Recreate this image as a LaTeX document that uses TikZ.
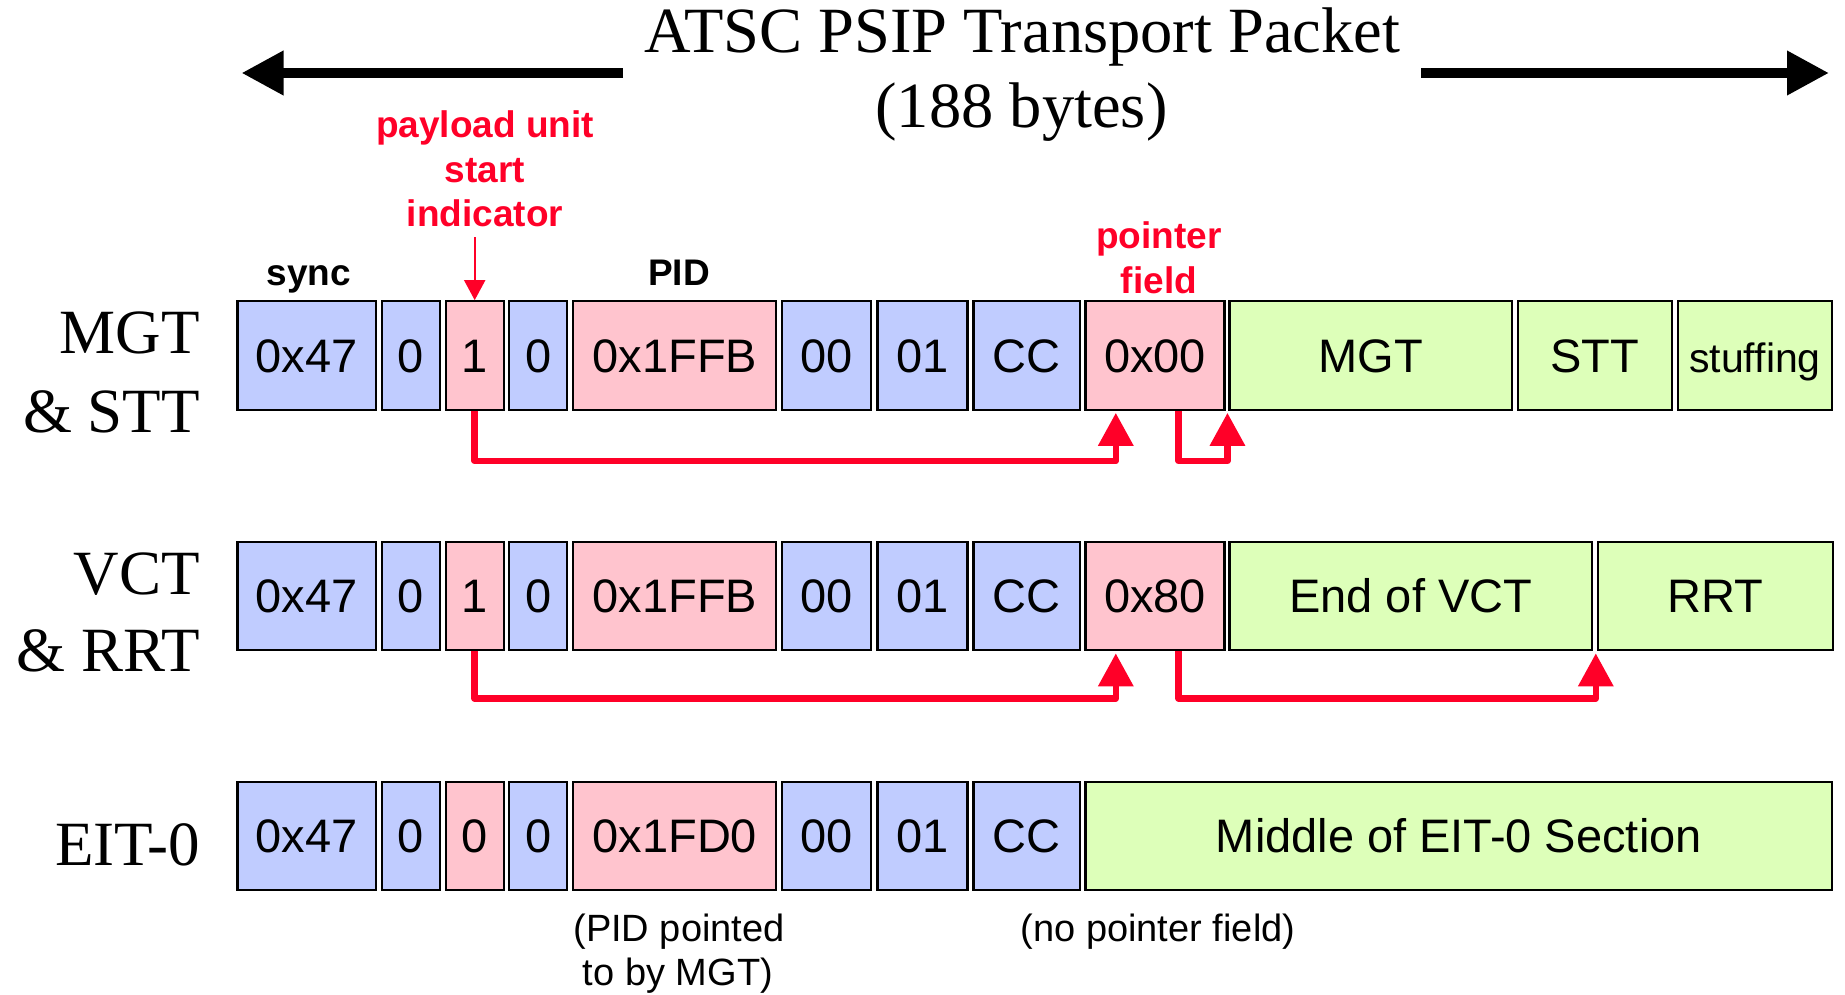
\documentclass[tikz,border=0pt]{standalone}
\usepackage{fontspec}
\setmainfont{Liberation Serif}
\newfontfamily\arial{Liberation Sans}
\usetikzlibrary{arrows.meta}
\definecolor{fblue}{RGB}{192,204,255}
\definecolor{fpink}{RGB}{255,196,206}
\definecolor{fgreen}{RGB}{221,255,185}
\definecolor{pred}{RGB}{255,0,40}

% common header fields of one transport packet row
\newcommand\pkthdr[4]{%
  \node[blu,minimum width=138.5pt] (r#1c1) at (306.8,#2) {0x47};
  \node[blu,minimum width=58pt]    (r#1c2) at (410.8,#2) {0};
  \node[pnk,minimum width=58pt]    (r#1c3) at (474.7,#2) {#3};
  \node[blu,minimum width=58pt]    (r#1c4) at (538.3,#2) {0};
  \node[pnk,minimum width=203pt]   (r#1c5) at (674.8,#2) {#4};
  \node[blu,minimum width=89.7pt]  (r#1c6) at (826.5,#2) {00};
  \node[blu,minimum width=90pt]    (r#1c7) at (922.4,#2) {01};
  \node[blu,minimum width=106.5pt] (r#1c8) at (1026.8,#2) {CC};
}

\begin{document}
\begin{tikzpicture}[x=1pt,y=-1pt,
  fld/.style={draw=black,line width=2.2pt,inner sep=0pt,minimum height=108.5pt,
    text height=33.5pt,text depth=0pt,font=\arial\fontsize{47}{56}\selectfont},
  blu/.style={fld,fill=fblue},
  pnk/.style={fld,fill=fpink},
  grn/.style={fld,fill=fgreen},
  rowlab/.style={anchor=base east,inner sep=0pt,font=\fontsize{63}{75}\selectfont},
  ttl/.style={anchor=base,inner sep=0pt,font=\fontsize{64.5}{75}\selectfont},
  redlab/.style={anchor=base,inner sep=0pt,text=pred,font=\arial\bfseries\fontsize{37}{44}\selectfont},
  blklab/.style={anchor=base,inner sep=0pt,font=\arial\bfseries\fontsize{37}{44}\selectfont},
  note/.style={anchor=base,inner sep=0pt,font=\arial\fontsize{38}{44}\selectfont},
  bigarrow/.style={draw=black,line width=10pt,-{Triangle[width=42pt,length=42pt]}},
  redline/.style={draw=pred,line width=6.5pt,line join=round,-{Triangle[width=34pt,length=33pt]}},
  thinred/.style={draw=pred,line width=2pt,-{Triangle[width=21pt,length=20pt]}}]

\useasboundingbox (0,0) rectangle (1845,995);

% title and packet-length arrows
\node[ttl] (title1) at (1022.5,53) {ATSC PSIP Transport Packet};
\node[ttl] (title2) at (1021.5,128) {(188 bytes)};
\coordinate (lstart) at (623,73);
\coordinate (ltip) at (241.5,73);
\coordinate (rstart) at (1421,73);
\coordinate (rtip) at (1829,73);
\draw[bigarrow] (lstart) -- (ltip);
\draw[bigarrow] (rstart) -- (rtip);

% field annotations
\node[redlab] (pusi1) at (485,137.7) {payload unit};
\node[redlab] (pusi2) at (485,182.5) {start};
\node[redlab] (pusi3) at (485,226.7) {indicator};
\node[redlab] (ptr1) at (1159,248.3) {pointer};
\node[redlab] (ptr2) at (1159,293) {field};
\node[blklab] (sync) at (309,285.5) {sync};
\node[blklab] (pid) at (679,285.5) {PID};

% row labels
\node[rowlab] (l1a) at (200,353) {MGT};
\node[rowlab] (l1b) at (200,432) {\& STT};
\node[rowlab] (l2a) at (200,594) {VCT};
\node[rowlab] (l2b) at (200,671) {\& RRT};
\node[rowlab] (l3a) at (200,865) {EIT-0};

% row 1: MGT & STT
\pkthdr{1}{355.5}{1}{0x1FFB}
\node[pnk,minimum width=139pt]   (r1c9)  at (1155,355.5) {0x00};
\node[grn,minimum width=282.5pt] (r1mgt) at (1370.8,355.5) {MGT};
\node[grn,minimum width=154pt]   (r1stt) at (1594.6,355.5) {STT};
\node[grn,minimum width=154pt]   (r1stf) at (1755,355.5) {\fontsize{41}{50}\selectfont stuffing};

% row 2: VCT & RRT
\pkthdr{2}{596}{1}{0x1FFB}
\node[pnk,minimum width=139pt]   (r2c9)  at (1155,596) {0x80};
\node[grn,minimum width=362.5pt] (r2vct) at (1410.8,596) {End of VCT};
\node[grn,minimum width=235pt]   (r2rrt) at (1715.4,596) {RRT};

% row 3: EIT-0
\pkthdr{3}{836}{0}{0x1FD0}
\node[grn,minimum width=746.5pt] (r3mid) at (1458.8,836) {Middle of EIT-0 Section};

% notes under row 3
\node[note] (n1) at (679,941.7) {(PID pointed};
\node[note] (n2) at (678,985) {to by MGT)};
\node[note] (n3) at (1158,941.7) {(no pointer field)};

% indicator arrow
\draw[thinred,shorten <=10pt] (pusi3.south -| r1c3.north) -- (r1c3.north);

% pointer connectors
\draw[redline] (r1c3.south) -- ++(0,50) -| ([xshift=31.4pt,yshift=-2pt]r1c9.south west);
\draw[redline] ([xshift=23.5pt]r1c9.south) -- ++(0,50) -| ([xshift=-1pt,yshift=-2pt]r1mgt.south west);
\draw[redline] (r2c3.south) -- ++(0,47) -| ([xshift=31.4pt,yshift=-2pt]r2c9.south west);
\draw[redline] ([xshift=23.5pt]r2c9.south) -- ++(0,47) -| ([xshift=-1pt,yshift=-2pt]r2rrt.south west);

\end{tikzpicture}
\end{document}
